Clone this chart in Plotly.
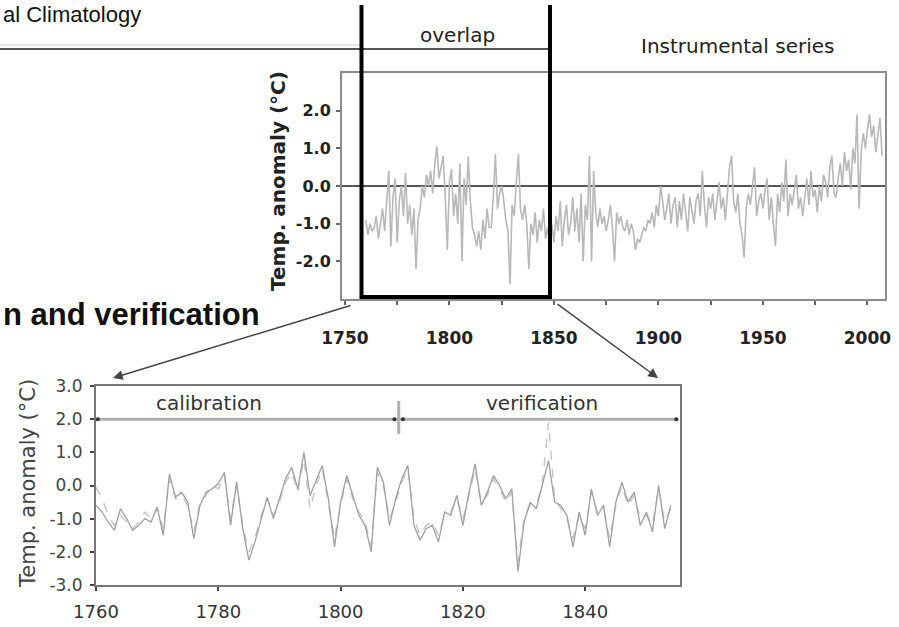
import plotly.graph_objects as go

W, H = 899, 627

# ---------------- data ----------------
top_years = list(range(1760, 2008))
top_anom = [
    -0.9, -1.3, -1.0, -1.2, -1.1, -0.8, -1.4, -1.0, -0.6, -1.2,
    -0.5, 0.4, -1.6, -0.3, 0.2, -1.5, -0.4, 0.0, -0.8, 0.35,
    -1.0, -0.5, -1.3, -0.6, -2.2, -0.9, -0.6, 0.0, -0.3, 0.3,
    0.0, 0.4, -0.2, 0.6, 1.05, 0.2, 0.5, 0.8, -0.3, -1.7,
    0.1, 0.45, -0.8, -0.2, -1.0, 0.6, -2.0, 0.2, -0.5, 0.78,
    -0.4, -1.1, -1.3, -1.6, -1.2, -1.7, -0.9, -1.4, -0.6, -1.1,
    -1.1, -0.3, 0.85, -0.6, -0.2, 0.0, -0.4, -0.9, -1.2, -2.6,
    -0.5, -0.8, 0.1, 0.85, -0.6, -0.9, -0.5, -1.0, -2.2, -1.0,
    -1.3, -0.7, -1.5, -0.9, -1.2, -0.6, -1.4, -1.1, -1.6, -1.0,
    -1.5, -0.8, -1.2, -0.4, -1.6, -0.9, -0.5, -1.3, -1.0, -0.3,
    -1.2, -0.6, -1.5, -0.2, -2.0, -0.5, -0.9, 0.8, -2.0, 0.4,
    -0.7, -1.1, -0.6, -1.0, -0.8, -1.2, -0.9, -0.5, -1.1, -2.0,
    -0.7, -1.0, -0.8, -1.1, -1.2, -0.9, -1.3, -1.0, -1.2, -1.7,
    -1.4, -1.5, -1.3, -1.1, -1.2, -0.9, -1.0, -0.7, -1.1, -0.5,
    -0.8, 0.0, -0.4, -0.9, -0.6, -0.2, -1.0, -0.5, -0.3, -1.1,
    -0.4, -0.9, -0.2, -0.7, -1.2, -0.3, -0.6, -1.0, -0.4, -0.2,
    -0.8, 0.4, -0.5, -1.1, -0.3, -0.6, -0.2, -0.9, -0.4, 0.1,
    -0.6, -0.3, -0.9, -0.1, 0.5, 0.8, -0.4, -0.7, -0.2, -1.0,
    -1.3, -1.9, -0.6, -0.2, -0.5, 0.0, 0.5, -0.8, -0.4, -0.2,
    -0.6, -0.1, 0.2, -0.9, -0.3, -1.0, -1.6, -0.2, -0.7, 0.1,
    -0.4, 0.7, -0.8, -0.2, -0.5, -0.1, 0.3, -0.6, -0.3, -0.8,
    -0.2, 0.2, -0.5, 0.4, -0.3, -0.1, -0.7, 0.0, -0.4, 0.3,
    0.1, -0.3, 0.5, 0.8, -0.2, -0.3, 0.2, 0.6, 0.0, 0.9,
    0.4, 0.7, -0.1, 1.0, 0.6, 1.9, -0.6, 0.9, 1.4, 1.0,
    1.5, 1.9, 1.3, 1.6, 0.9, 1.4, 1.8, 0.8,
]

bot_years = list(range(1760, 1855))
bot_observed = [
    -0.6, -0.8, -1.1, -1.35, -0.7, -1.0, -1.35, -1.2, -1.0, -1.1,
    -0.65, -1.5, 0.35, -0.35, -0.2, -0.5, -1.6, -0.6, -0.2, -0.1,
    0.05, 0.4, -1.2, 0.1, -1.3, -2.25, -1.7, -1.0, -0.35, -1.0,
    -0.4, 0.2, 0.55, -0.1, 1.0, -0.3, 0.15, 0.6, -0.4, -1.85,
    -0.5, 0.3, -0.3, -0.9, -1.2, -2.0, 0.55, 0.1, -1.2, -0.4,
    0.2, 0.6, -1.2, -1.65, -1.3, -1.2, -1.7, -0.8, -0.9, -0.3,
    -1.2, -0.2, 0.65, -0.6, -0.2, 0.3, 0.0, -0.4, -0.1, -2.6,
    -1.1, -0.5, -0.7, 0.0, 0.75, -0.5, -0.6, -0.9, -1.85, -0.8,
    -1.5, -0.1, -0.9, -0.6, -1.85, -0.5, 0.1, -0.5, -0.2, -1.2,
    -0.8, -1.4, 0.0, -1.3, -0.6,
]
bot_reconstructed = [
    -0.05, -0.4, -0.9, -1.2, -0.9, -1.1, -1.3, -1.1, -0.8, -1.0,
    -0.7, -1.3, 0.2, -0.4, -0.3, -0.6, -1.4, -0.5, -0.3, 0.0,
    -0.1, 0.3, -1.0, 0.0, -1.2, -2.0, -1.6, -0.9, -0.4, -0.9,
    -0.5, 0.1, 0.4, -0.2, 0.8, -0.7, 0.0, 0.5, -0.5, -1.6,
    -0.6, 0.2, -0.4, -0.8, -1.1, -1.8, 0.4, 0.0, -1.0, -0.5,
    0.1, 0.5, -1.0, -1.5, -1.2, -1.1, -1.5, -0.9, -0.8, -0.4,
    -1.0, -0.3, 0.5, -0.5, -0.3, 0.2, -0.1, -0.5, -0.2, -2.3,
    -1.0, -0.6, -0.6, 0.1, 1.9, -0.4, -0.7, -1.0, -1.6, -0.9,
    -1.3, -0.2, -0.8, -0.7, -1.6, -0.6, 0.0, -0.6, -0.3, -1.0,
    -0.9, -1.2, -0.1, -1.1, -0.7,
]

top_xtick_vals = [1750, 1775, 1800, 1825, 1850, 1875, 1900, 1925, 1950, 1975, 2000]
top_xtick_text = ["1750", "", "1800", "", "1850", "", "1900", "", "1950", "", "2000"]
top_ytick_vals = [-2, -1, 0, 1, 2]
top_ytick_text = ["-2.0", "-1.0", "0.0", "1.0", "2.0"]
bot_xtick_vals = [1760, 1780, 1800, 1820, 1840]
bot_xtick_text = ["1760", "1780", "1800", "1820", "1840"]
bot_ytick_vals = [-3, -2, -1, 0, 1, 2, 3]
bot_ytick_text = ["-3.0", "-2.0", "-1.0", "0.0", "1.0", "2.0", "3.0"]

period_marker_years = [1760.3, 1808.8, 1810.2, 1854.9]
period_marker_level = [2, 2, 2, 2]
split_year = 1809.5
cal_label_year, ver_label_year = 1778.5, 1833.0


def px(x):
    return x / W


def py(y):
    return 1 - y / H


FONT = "DejaVu Sans, sans-serif"
ARIAL = "Liberation Sans, Arial, sans-serif"

fig = go.Figure()

fig.add_trace(go.Scatter(x=top_years, y=top_anom, mode="lines",
                         line=dict(color="#b8b8b8", width=1.6),
                         xaxis="x", yaxis="y", showlegend=False))

fig.add_trace(go.Scatter(x=bot_years, y=bot_reconstructed, mode="lines",
                         line=dict(color="#c4c4c4", width=1.4, dash="dash"),
                         xaxis="x2", yaxis="y2", showlegend=False))
fig.add_trace(go.Scatter(x=bot_years, y=bot_observed, mode="lines",
                         line=dict(color="#a0a0a0", width=1.3),
                         xaxis="x2", yaxis="y2", showlegend=False))

# calibration / verification bar
fig.add_trace(go.Scatter(x=[bot_years[0], bot_years[-1] + 0.9], y=[2, 2], mode="lines",
                         line=dict(color="#b0b0b0", width=3),
                         xaxis="x2", yaxis="y2", showlegend=False))
fig.add_trace(go.Scatter(x=[split_year, split_year], y=[1.55, 2.55], mode="lines",
                         line=dict(color="#b0b0b0", width=3),
                         xaxis="x2", yaxis="y2", showlegend=False))
fig.add_trace(go.Scatter(x=period_marker_years, y=period_marker_level, mode="markers",
                         marker=dict(color="#333", size=4),
                         xaxis="x2", yaxis="y2", showlegend=False))

axis_common = dict(showgrid=False, showline=True, mirror=True, ticks="outside",
                   ticklen=4, tickwidth=1.5, automargin=False)

fig.update_layout(
    width=W, height=H,
    margin=dict(l=0, r=0, t=0, b=0, autoexpand=False),
    paper_bgcolor="white", plot_bgcolor="white",
    font=dict(family=FONT, color="#222"),
    xaxis=dict(domain=[px(342), px(885)], range=[1748.6, 2008.4],
               tickvals=top_xtick_vals, ticktext=top_xtick_text,
               linecolor="#8c8c8c", linewidth=2, tickcolor="#666",
               tickfont=dict(size=17, color="#222", weight="bold"),
               ticklabelstandoff=19,
               anchor="y", zeroline=False, **axis_common),
    yaxis=dict(domain=[py(299), py(73)], range=[-3, 3],
               tickvals=top_ytick_vals, ticktext=top_ytick_text,
               linecolor="#8c8c8c", linewidth=2, tickcolor="#666",
               tickfont=dict(size=16, color="#222", weight="bold"),
               ticklabelstandoff=2,
               zeroline=True, zerolinecolor="#555", zerolinewidth=2,
               anchor="x", **axis_common),
    xaxis2=dict(domain=[px(96), px(680)], range=[1760, 1855.5],
                tickvals=bot_xtick_vals, ticktext=bot_xtick_text,
                linecolor="#777", linewidth=2, tickcolor="#444",
                tickfont=dict(size=18, color="#333"), ticklabelstandoff=5,
                anchor="y2", zeroline=False, **axis_common),
    yaxis2=dict(domain=[py(585), py(386)], range=[-3, 3],
                tickvals=bot_ytick_vals, ticktext=bot_ytick_text,
                linecolor="#777", linewidth=2, tickcolor="#444",
                tickfont=dict(size=17, color="#444"), ticklabelstandoff=4,
                zeroline=False, anchor="x2", **axis_common),
)

shapes = [
    # header rule
    dict(type="line", xref="paper", yref="paper", x0=0, x1=px(550),
         y0=py(49), y1=py(49), line=dict(color="#555", width=2)),
    dict(type="line", xref="paper", yref="paper", x0=0, x1=px(360),
         y0=py(45), y1=py(45), line=dict(color="#e6e6e6", width=2)),
    # thick overlap box (open at the top)
    dict(type="path", xref="paper", yref="paper",
         path=(f"M {px(361.5)},{py(5)} L {px(361.5)},{py(297)} "
               f"L {px(550)},{py(297)} L {px(550)},{py(5)}"),
         line=dict(color="black", width=4)),
]
fig.update_layout(shapes=shapes)


def note(text, x, y, size, color="#222", family=FONT, angle=0, xanchor="center",
         yanchor="middle"):
    return dict(text=text, x=px(x), y=py(y), xref="paper", yref="paper",
                xanchor=xanchor, yanchor=yanchor, textangle=angle, showarrow=False,
                font=dict(size=size, color=color, family=family))


annotations = [
    note("al Climatology", 1, 0, 22, "#111", ARIAL, xanchor="left", yanchor="top"),
    note("overlap", 457, 35, 20),
    note("Instrumental series", 737, 46, 20),
    note("<b>n and verification</b>", 1, 314, 31, "#111", ARIAL, xanchor="left"),
    note("<b>Temp. anomaly (°C)</b>", 278, 181, 20, angle=-90),
    note("Temp. anomaly (°C)", 28, 484, 21, "#444", angle=-90),
    dict(text="calibration", x=cal_label_year, y=2.5, xref="x2", yref="y2",
         xanchor="center", yanchor="middle",
         showarrow=False, font=dict(size=20, color="#333")),
    dict(text="verification", x=ver_label_year, y=2.5, xref="x2", yref="y2",
         xanchor="center", yanchor="middle",
         showarrow=False, font=dict(size=20, color="#333")),
    # zoom arrows
    dict(text="", x=px(113), y=py(378), xref="paper", yref="paper",
         ax=352 - 113, ay=305 - 378, axref="pixel", ayref="pixel",
         showarrow=True, arrowhead=2, arrowsize=1.3, arrowwidth=1.5, arrowcolor="#444"),
    dict(text="", x=px(658), y=py(378), xref="paper", yref="paper",
         ax=556 - 658, ay=303 - 378, axref="pixel", ayref="pixel",
         showarrow=True, arrowhead=2, arrowsize=1.3, arrowwidth=1.5, arrowcolor="#444"),
]
fig.update_layout(annotations=annotations)

fig.write_html("out.html")
